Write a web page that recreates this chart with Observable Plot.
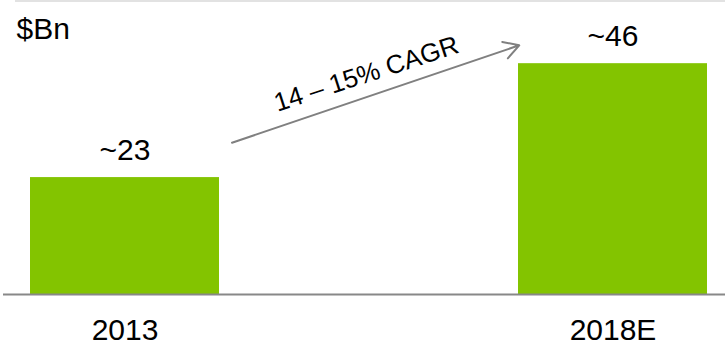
<!DOCTYPE html>
<html>
<head>
<meta charset="utf-8">
<script src="https://cdn.jsdelivr.net/npm/d3@7"></script>
<script src="https://cdn.jsdelivr.net/npm/@observablehq/plot@0.6"></script>
<style>
  html, body { margin: 0; padding: 0; background: #fff; }
  svg { display: block; }
</style>
</head>
<body>
<div id="chart"></div>
<script>
// Data
const categories = ["2013", "2018E"];
const values = [23.3, 46];
const valueLabels = ["~23", "~46"];
const unitLabel = "$Bn";
const cagrLabel = "14 – 15% CAGR";
const arrowFrom = "2013";
const arrowTo = "2018E";
const arrowStartValue = 23;
const arrowEndValue = 56;
const yMax = 56;

const bars = categories.map((c, i) => ({category: c, value: values[i], label: valueLabels[i]}));
const arrows = [{x1: arrowFrom, x2: arrowTo, y1: arrowStartValue, y2: arrowEndValue}];

const font = "Liberation Sans, Arial, sans-serif";
const green = "#83C400";

const chart = Plot.plot({
  width: 725,
  height: 346,
  marginLeft: 30,
  marginRight: 18,
  marginTop: 13,
  marginBottom: 52,
  style: {fontFamily: font, background: "#fff", overflow: "visible"},
  x: {domain: categories, paddingInner: 0.613, paddingOuter: 0, label: null},
  y: {domain: [0, yMax], axis: null},
  marks: [
    Plot.ruleY([yMax], {stroke: "#d9d9d9", strokeWidth: 1.5, dy: -12.5, insetLeft: -15, insetRight: -18}),
    Plot.barY(bars, {x: "category", y: "value", fill: green}),
    Plot.ruleY([0], {stroke: "#888888", strokeWidth: 2, insetLeft: -27, insetRight: -18}),
    Plot.axisX({tickSize: 0, tickPadding: 24, fontSize: 30, fill: "#000", label: null}),
    Plot.text(bars, {x: "category", y: "value", text: "label", fontSize: 30, fill: "#000", lineAnchor: "bottom", dy: -18}),
    Plot.text([unitLabel], {frameAnchor: "top-left", lineAnchor: "bottom", textAnchor: "start", dx: -14, dy: 25, fontSize: 30, fill: "#000"}),
    Plot.arrow(arrows, {x1: "x1", y1: "y1", x2: "x2", y2: "y2", stroke: "#808080", strokeWidth: 2, headLength: 13, headAngle: 60, insetStart: 113, insetEnd: 99}),
    Plot.text([cagrLabel], {frameAnchor: "middle", lineAnchor: "bottom", rotate: -18, dy: -72, fontSize: 26, fill: "#000"})
  ]
});
document.getElementById("chart").appendChild(chart);
</script>
</body>
</html>
